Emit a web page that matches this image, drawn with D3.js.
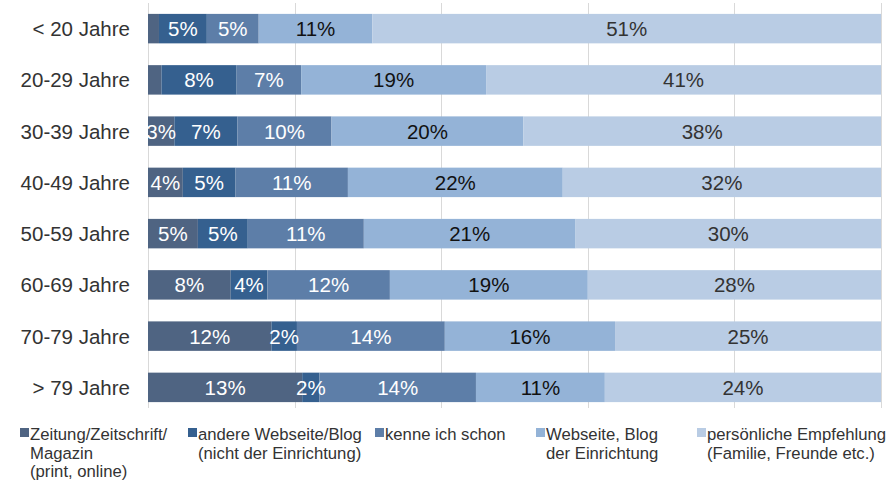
<!DOCTYPE html>
<html>
  <head>
    <meta charset="utf-8">
    <title>Woher kennen Sie uns</title>
    <style>
      body { margin: 0; background: #fff; }
      text { font-family: "Liberation Sans", Arial, sans-serif; }
    </style>
  </head>
  <body>
    <script src="https://cdn.jsdelivr.net/npm/d3@7"></script>
    <script>
      // Altersgruppen (von oben nach unten)
      var categories = ["< 20 Jahre", "20-29 Jahre", "30-39 Jahre", "40-49 Jahre",
                        "50-59 Jahre", "60-69 Jahre", "70-79 Jahre", "> 79 Jahre"];

      // Legendentexte, Zeilenumbrüche als Array
      var seriesNames = [
        ["Zeitung/Zeitschrift/", "Magazin", "(print, online)"],
        ["andere Webseite/Blog", "(nicht der Einrichtung)"],
        ["kenne ich schon"],
        ["Webseite, Blog", "der Einrichtung"],
        ["persönliche Empfehlung", "(Familie, Freunde etc.)"]
      ];

      // Werte in Prozent je Altersgruppe (Reihenfolge wie categories)
      var zeitung   = [1.1, 1.4, 2.8, 3.5, 4.9, 7.9, 11.6, 13.4];
      var andereWeb = [4.8, 7.8, 6.7, 5.3, 4.9, 3.5, 2.4, 1.5];
      var kenneIch  = [5.2, 6.7, 10.0, 11.3, 11.4, 11.7, 13.9, 13.6];
      var eigeneWeb = [11.4, 19.2, 20.4, 21.6, 20.8, 18.9, 16.0, 11.2];
      var empfehlung = [51.0, 41.0, 38.0, 32.0, 30.0, 28.0, 25.0, 24.0];

      var gridTicks = [0, 0.2, 0.4, 0.6, 0.8, 1];

      var colors = ["#4f6482", "#35608f", "#5d7ea8", "#94b3d7", "#b9cce4"];
      var labelColors = ["#ffffff", "#ffffff", "#ffffff", "#111111", "#333333"];
      var legendX = [20, 188, 375, 536, 697];

      var width = 887, height = 483;

      var svg = d3.select("body").append("svg")
        .attr("width", width)
        .attr("height", height);

      // Tabelle für d3.stack bauen, jede Zeile auf 100% normiert
      var keys = ["s0", "s1", "s2", "s3", "s4"];
      var seriesValues = [zeitung, andereWeb, kenneIch, eigeneWeb, empfehlung];
      var table = categories.map(function(c, i) {
        var row = { cat: c };
        var total = d3.sum(seriesValues, function(s) { return s[i]; });
        keys.forEach(function(k, j) {
          row[k] = seriesValues[j][i] / total;
          row[k + "_raw"] = seriesValues[j][i];
        });
        return row;
      });

      var stacked = d3.stack().keys(keys)(table);

      var x = d3.scaleLinear().domain([0, 1]).range([148, 881]);
      var y = d3.scaleBand().domain(categories).range([3, 413])
        .paddingInner(0.425).paddingOuter(0.2125);

      // Gitterlinien
      svg.append("g")
        .selectAll("line")
        .data(gridTicks)
        .enter()
        .append("line")
        .attr("x1", function(d) { return Math.round(x(d)) + 0.5; })
        .attr("x2", function(d) { return Math.round(x(d)) + 0.5; })
        .attr("y1", 3)
        .attr("y2", 408)
        .style("stroke", "#d9d9d9")
        .style("stroke-width", 1);

      svg.append("clipPath").attr("id", "plotClip")
        .append("rect")
        .attr("x", x(0)).attr("y", 0)
        .attr("width", x(1) - x(0)).attr("height", 420);

      // Balken
      var layers = svg.append("g")
        .selectAll("g")
        .data(stacked)
        .enter()
        .append("g")
        .style("fill", function(d, i) { return colors[i]; });

      layers.selectAll("rect")
        .data(function(d) { return d; })
        .enter()
        .append("rect")
        .attr("x", function(d) { return x(d[0]); })
        .attr("y", function(d) { return y(d.data.cat); })
        .attr("width", function(d) { return x(d[1]) - x(d[0]); })
        .attr("height", y.bandwidth());

      // Beschriftungen in den Balken
      var labels = svg.append("g").attr("clip-path", "url(#plotClip)");
      stacked.forEach(function(layer, i) {
        labels.append("g")
          .selectAll("text")
          .data(layer.filter(function(d) { return Math.round(d.data[layer.key + "_raw"]) >= 2; }))
          .enter()
          .append("text")
          .attr("x", function(d) { return (x(d[0]) + x(d[1])) / 2; })
          .attr("y", function(d) { return y(d.data.cat) + y.bandwidth() / 2; })
          .attr("text-anchor", "middle")
          .attr("dominant-baseline", "central")
          .style("fill", labelColors[i])
          .style("font-size", "20.5px")
          .text(function(d) { return Math.round(d.data[layer.key + "_raw"]) + "%"; });
      });

      // Kategorien links
      svg.append("g")
        .selectAll("text")
        .data(categories)
        .enter()
        .append("text")
        .attr("x", 130)
        .attr("y", function(d) { return y(d) + y.bandwidth() / 2; })
        .attr("text-anchor", "end")
        .attr("dominant-baseline", "central")
        .style("fill", "#333")
        .style("font-size", "20.5px")
        .text(function(d) { return d; });

      // Legende
      var legend = svg.append("g")
        .selectAll("g")
        .data(seriesNames)
        .enter()
        .append("g")
        .attr("transform", function(d, i) { return "translate(" + legendX[i] + ",0)"; });

      legend.append("rect")
        .attr("x", 0).attr("y", 428)
        .attr("width", 9).attr("height", 9)
        .style("fill", function(d, i) { return colors[i]; });

      legend.append("text")
        .attr("y", 440)
        .style("fill", "#333")
        .style("font-size", "16.7px")
        .selectAll("tspan")
        .data(function(d) { return d; })
        .enter()
        .append("tspan")
        .attr("x", 10)
        .attr("dy", function(d, i) { return i === 0 ? 0 : 18.5; })
        .text(function(d) { return d; });
    </script>
  </body>
</html>
